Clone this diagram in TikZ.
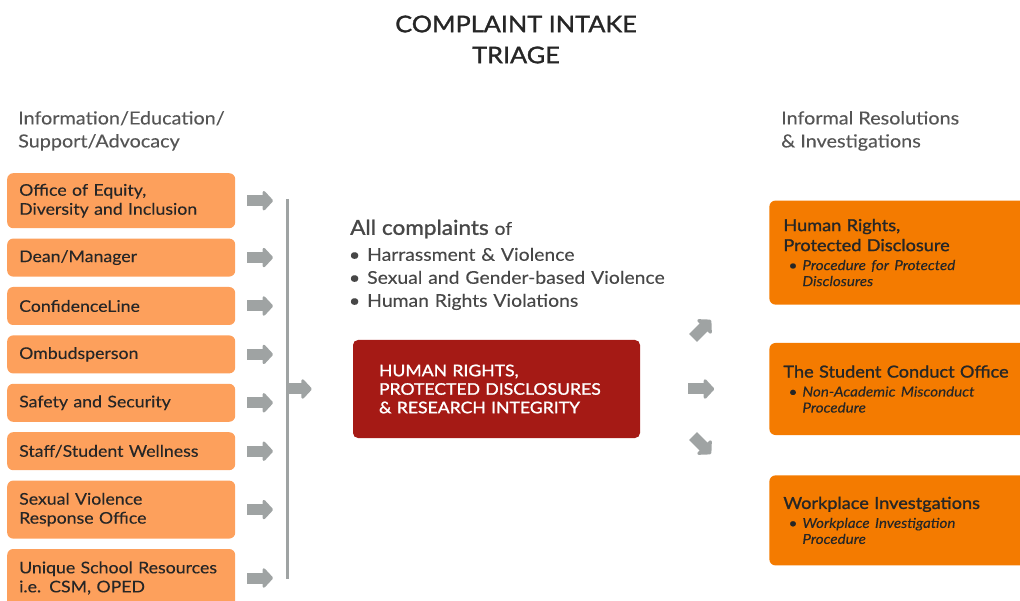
\documentclass[tikz,border=0pt]{standalone}
\usepackage{fontspec}
\setmainfont{Lato}[FakeStretch=1.1, FakeBold=0.12]
\newfontfamily\medfont{Lato}[FakeStretch=1.1, FakeBold=1.3]
\usetikzlibrary{arrows.meta}
\usetikzlibrary{positioning}

\definecolor{srcorange}{HTML}{FDA05C}
\definecolor{destorange}{HTML}{F47B00}
\definecolor{triagered}{HTML}{A51A15}
\definecolor{arrowgray}{HTML}{9FA3A3}
\definecolor{ink}{HTML}{262626}
\definecolor{headgray}{HTML}{555555}
\definecolor{bodygray}{HTML}{474747}

\tikzset{
    every node/.style={font=\fontsize{16.1}{19}\selectfont, text=ink},
    src box/.style={fill=srcorange, rounded corners=6pt, minimum width=228pt,
        minimum height=38pt, text width=204pt, inner xsep=12pt, align=left},
    dest box/.style={fill=destorange, rounded corners=6pt, minimum width=290pt,
        text width=262pt, inner xsep=14pt, align=left},
    block arrow/.style={draw=arrowgray, line width=11pt, line join=round,
        -{Triangle[length=11pt, width=23pt, round]}},
    feed arrow/.style={block arrow, shorten <=12pt, shorten >=14pt}
}

% one bullet line inside the orange boxes on the right
\newcommand{\procnote}[1]{{\fontsize{13.8}{16}\selectfont\itshape\leftskip=19pt
    \vspace{3pt}\leavevmode\llap{\upshape\textbullet\hspace{5pt}}#1\par}}
% one bullet line of the complaint list
\newcommand{\kind}[1]{\leavevmode\llap{\textbullet\hspace{7pt}}#1\par}

\begin{document}
\begin{tikzpicture}[
            x = 1pt, y = -1pt, % one unit per pixel, y going down
            node distance = 10pt % gap between the stacked boxes
        ]

        \useasboundingbox (0,0) rectangle (1020,601);
        \clip (0,0) rectangle (1020,601);

        % headings
        \node[font=\medfont\fontsize{23}{31}\selectfont, align=center, text=ink] (title) at (516,39.5) {COMPLAINT INTAKE\\TRIAGE};
        \node[font=\fontsize{18}{23}\selectfont, text=headgray, align=left, anchor=north west, inner sep=0pt] (lefthead) at (18,111) {Information/Education/\\Support/Advocacy};
        \node[font=\fontsize{18}{23}\selectfont, text=headgray, align=left, anchor=north west, inner sep=0pt] (righthead) at (781,111) {Informal Resolutions\\\& Investigations};

        % where a complaint can come in
        \node[src box, minimum height=55pt, anchor=north west] (equity) at (7,173) {Office of Equity,\\Diversity and Inclusion};
        \node[src box] (dean) [below=of equity] {Dean/Manager};
        \node[src box] (confline) [below=of dean] {ConfidenceLine};
        \node[src box] (ombuds) [below=of confline] {Ombudsperson};
        \node[src box] (safety) [below=of ombuds] {Safety and Security};
        \node[src box] (wellness) [below=of safety] {Staff/Student Wellness};
        \node[src box, minimum height=58pt] (svro) [below=of wellness] {Sexual Violence\\Response Office};
        \node[src box, minimum height=58pt] (school) [below=of svro] {Unique School Resources\\i.e. CSM, OPED};

        % collecting rail
        \coordinate (railtop) at (287,199);
        \coordinate (railbottom) at (287,579);
        \draw[arrowgray, line width=3pt] (railtop) -- (railbottom);

        \draw[feed arrow] (equity.east) -- (equity.east -| railtop);
        \draw[feed arrow] (dean.east) -- (dean.east -| railtop);
        \draw[feed arrow] (confline.east) -- (confline.east -| railtop);
        \draw[feed arrow] (ombuds.east) -- (ombuds.east -| railtop);
        \draw[feed arrow] (safety.east) -- (safety.east -| railtop);
        \draw[feed arrow] (wellness.east) -- (wellness.east -| railtop);
        \draw[feed arrow] (svro.east) -- (svro.east -| railtop);
        \draw[feed arrow] (school.east) -- (school.east -| railtop);

        % the intake office itself
        \node[anchor=north west, inner sep=0pt, text width=350pt, align=left, text=bodygray,
            font=\fontsize{17.6}{23}\selectfont] (complaints) at (350,219.5) {%
            {\medfont\fontsize{20.5}{23}\selectfont All complaints} of\par
            \vspace{3pt}\leftskip=17pt
            \kind{Harrassment \& Violence}
            \kind{Sexual and Gender-based Violence}
            \kind{Human Rights Violations}};
        \node[fill=triagered, rounded corners=5pt, minimum width=287pt, minimum height=98pt,
            text width=235pt, inner xsep=26pt, align=left, text=white,
            font=\medfont\fontsize{16}{18.5}\selectfont] (triage) at (496.5,389)
            {HUMAN RIGHTS,\\PROTECTED DISCLOSURES\\\& RESEARCH INTEGRITY};

        \draw[block arrow, shorten <=2pt, shorten >=41pt] (triage.west -| railtop) -- (triage.west);

        % where it is sent on to
        \node[dest box, minimum height=92pt, right=129pt of triage] (conduct) {%
            {\medfont\fontsize{16.5}{20}\selectfont The Student Conduct Office\par}
            \procnote{Non-Academic Misconduct\\Procedure}};
        \node[dest box, minimum height=104pt, above=38pt of conduct] (rights) {%
            {\medfont\fontsize{16.5}{20}\selectfont Human Rights,\\Protected Disclosure\par}
            \procnote{Procedure for Protected\\Disclosures}};
        \node[dest box, minimum height=90pt, below=40pt of conduct] (workplace) {%
            {\medfont\fontsize{16.5}{20}\selectfont Workplace Investgations\par}
            \procnote{Workplace Investigation\\Procedure}};

        \coordinate (upfoot) at (693,338);
        \coordinate (uphead) at (711,320);
        \coordinate (downfoot) at (693,436);
        \coordinate (downhead) at (711,454);
        \draw[block arrow] (upfoot) -- (uphead);
        \draw[block arrow, shorten <=48pt, shorten >=55pt] (triage.east) -- (conduct.west);
        \draw[block arrow] (downfoot) -- (downhead);

\end{tikzpicture}
\end{document}
